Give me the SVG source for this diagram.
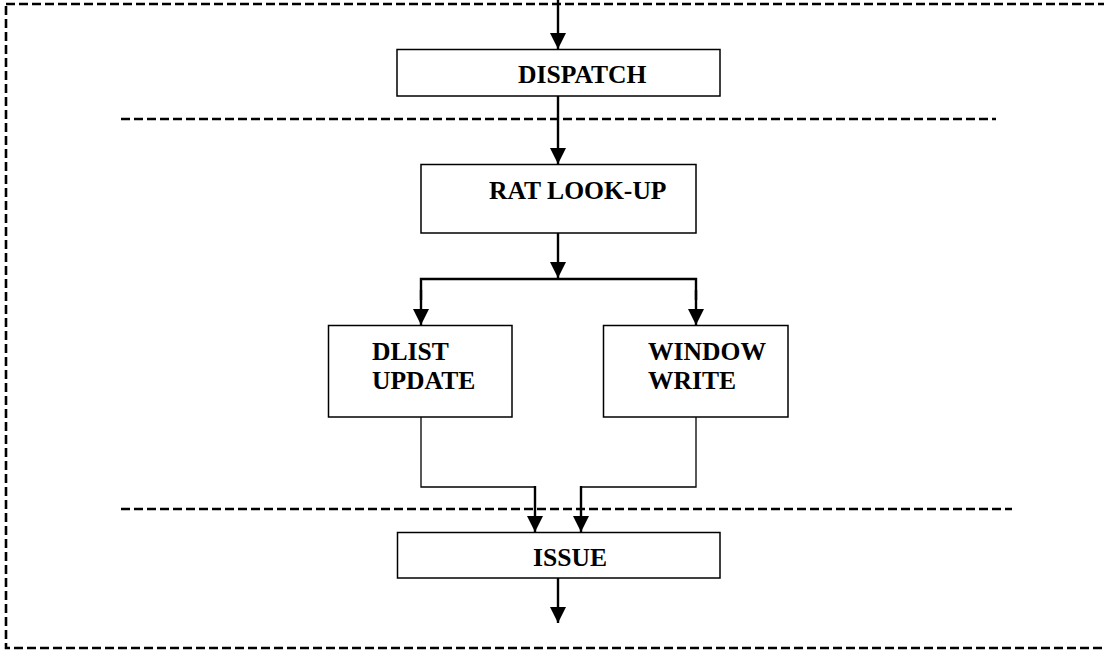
<svg xmlns="http://www.w3.org/2000/svg" width="1104" height="650" viewBox="0 0 1104 650">
  <style>
    .box { fill: #fff; stroke: #000; stroke-width: 1.5; }
    .lbl { font-family: "Liberation Serif", "Times New Roman", serif; font-weight: bold; font-size: 25.6px; fill: #000; }
    .dash { fill: none; stroke: #000; stroke-width: 2.6; stroke-dasharray: 9 4; }
    .flow { fill: none; stroke: #000; stroke-width: 2.4; }
    .thin { fill: none; stroke: #000; stroke-width: 1.3; }
  </style>
  <defs>
    <marker id="arr" markerUnits="userSpaceOnUse" markerWidth="16" markerHeight="16" refX="16" refY="8" orient="auto" viewBox="0 0 16 16">
      <path d="M0,0 L16,8 L0,16 Z" fill="#000"/>
    </marker>
  </defs>

  <!-- outer stage boundary and pipeline stage separators -->
  <g id="boundaries">
    <rect class="dash" x="6" y="4" width="1110" height="644"/>
    <line class="dash" x1="121" y1="119" x2="996" y2="119"/>
    <line class="dash" x1="121" y1="509" x2="1012" y2="509"/>
  </g>

  <!-- connectors -->
  <g id="connectors">
    <line class="flow" x1="558" y1="0" x2="558" y2="49" marker-end="url(#arr)"/>
    <line class="flow" x1="558" y1="96" x2="558" y2="164" marker-end="url(#arr)"/>
    <line class="flow" x1="558" y1="233" x2="558" y2="278" marker-end="url(#arr)"/>
    <polyline class="flow" points="421,300 421,279 696,279 696,300"/>
    <line class="flow" x1="421" y1="290" x2="421" y2="325" marker-end="url(#arr)"/>
    <line class="flow" x1="696" y1="290" x2="696" y2="325" marker-end="url(#arr)"/>
    <polyline class="thin" points="421,417 421,487 535,487"/>
    <line class="flow" x1="535" y1="486" x2="535" y2="532" marker-end="url(#arr)"/>
    <polyline class="thin" points="696,417 696,487 581,487"/>
    <line class="flow" x1="581" y1="486" x2="581" y2="532" marker-end="url(#arr)"/>
    <line class="flow" x1="558" y1="578" x2="558" y2="623" marker-end="url(#arr)"/>
  </g>

  <g id="dispatch">
    <rect class="box" x="397" y="49.5" width="323" height="46.5"/>
    <text class="lbl" x="518" y="83">DISPATCH</text>
  </g>

  <g id="rat-lookup">
    <rect class="box" x="421" y="164.5" width="275" height="68.5"/>
    <text class="lbl" x="489" y="199">RAT LOOK-UP</text>
  </g>

  <g id="dlist-update">
    <rect class="box" x="328.5" y="325.5" width="183.5" height="91.5"/>
    <text class="lbl" x="372" y="360">DLIST</text>
    <text class="lbl" x="372" y="389">UPDATE</text>
  </g>

  <g id="window-write">
    <rect class="box" x="603.5" y="325.5" width="184.5" height="91.5"/>
    <text class="lbl" x="648" y="360">WINDOW</text>
    <text class="lbl" x="648" y="389">WRITE</text>
  </g>

  <g id="issue">
    <rect class="box" x="397.5" y="532.5" width="322.5" height="45.5"/>
    <text class="lbl" x="533" y="566">ISSUE</text>
  </g>
</svg>
